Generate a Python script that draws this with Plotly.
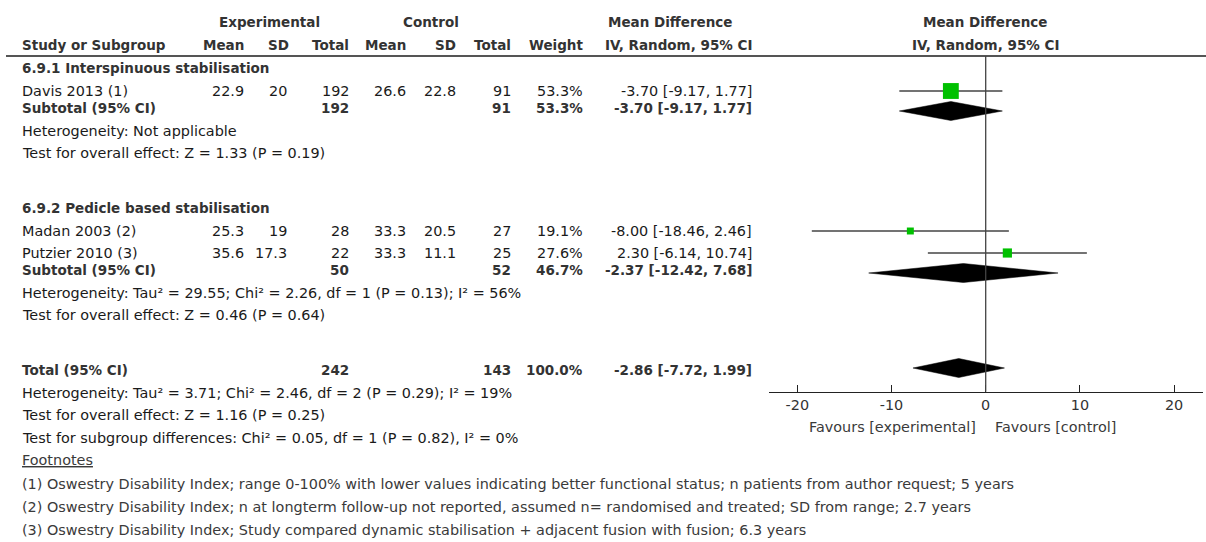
import plotly.graph_objects as go

# ---------------- data ----------------
group_names = ["6.9.1 Interspinuous stabilisation", "6.9.2 Pedicle based stabilisation"]
study_names = ["Davis 2013 (1)", "Madan 2003 (2)", "Putzier 2010 (3)"]
study_group = [0, 1, 1]
exp_mean = [22.9, 25.3, 35.6]
exp_sd = [20, 19, 17.3]
exp_total = [192, 28, 22]
ctl_mean = [26.6, 33.3, 33.3]
ctl_sd = [22.8, 20.5, 11.1]
ctl_total = [91, 27, 25]
weights = [53.3, 19.1, 27.6]
md = [-3.70, -8.00, 2.30]
md_lo = [-9.17, -18.46, -6.14]
md_hi = [1.77, 2.46, 10.74]

sub_exp_total = [192, 50]
sub_ctl_total = [91, 52]
sub_weight = [53.3, 46.7]
sub_md = [-3.70, -2.37]
sub_lo = [-9.17, -12.42]
sub_hi = [1.77, 7.68]
sub_het = ["Heterogeneity: Not applicable",
           "Heterogeneity: Tau² = 29.55; Chi² = 2.26, df = 1 (P = 0.13); I² = 56%"]
sub_test = ["Test for overall effect: Z = 1.33 (P = 0.19)",
            "Test for overall effect: Z = 0.46 (P = 0.64)"]

total_exp = 242
total_ctl = 143
total_weight = 100.0
total_md = -2.86
total_lo = -7.72
total_hi = 1.99
total_notes = ["Heterogeneity: Tau² = 3.71; Chi² = 2.46, df = 2 (P = 0.29); I² = 19%",
               "Test for overall effect: Z = 1.16 (P = 0.25)",
               "Test for subgroup differences: Chi² = 0.05, df = 1 (P = 0.82), I² = 0%"]
footnotes = ["(1) Oswestry Disability Index; range 0-100% with lower values indicating better functional status; n patients from author request; 5 years",
             "(2) Oswestry Disability Index; n at longterm follow-up not reported, assumed n= randomised and treated; SD from range; 2.7 years",
             "(3) Oswestry Disability Index; Study compared dynamic stabilisation + adjacent fusion with fusion; 6.3 years"]
tick_vals = [-20, -10, 0, 10, 20]
tick_labels = ["-20", "-10", "0", "10", "20"]
favours = ["Favours [experimental]", "Favours [control]"]

# ---------------- layout / style ----------------
W, H = 1206, 542
FONT = "DejaVu Sans"
REG = dict(family=FONT, size=14.4, color="#1a1a1a")
BOLD_C = "#333333"
BSIZE = 13.5
NOTE = dict(family=FONT, size=14.4, color="#3a3a3a")
GREEN = "#00C000"
LINEC = "#444444"

# column anchor positions (px, right edges)
COL_LABEL = 21
COL = dict(em=245, esd=288, en=350, cm=407, csd=457, cn=512, w=584, ci=753)

# row layout (px from top)
Y_H1, Y_H2, Y_RULE = 22, 45, 56
group_rows = [
    dict(head=68, studies=[91], sub=108, het=131, test=153),
    dict(head=208, studies=[231, 253], sub=270, het=293, test=315),
]
Y_TOTAL = 370
Y_NOTES = [393, 415, 438]
Y_FOOTHEAD = 460
Y_FOOT = [484, 507, 530]
DIAMOND_OFFSET = 3
DIAMOND_HALF = 9.5
AXIS_Y = 391.7

PLOT_L, PLOT_R = 769, 1203
X0_PX, PX_PER_UNIT = 985.7, 9.42
x_range = [(PLOT_L - X0_PX) / PX_PER_UNIT, (PLOT_R - X0_PX) / PX_PER_UNIT]

ann = []


def txt(x, y, s, anchor="left", bold=False, font=None, xref="paper"):
    if font is None:
        font = dict(family=FONT, size=BSIZE, color=BOLD_C) if bold else REG
    ann.append(dict(x=(x / W) if xref == "paper" else x, y=y, xref=xref, yref="y",
                    text=s, showarrow=False, xanchor=anchor, yanchor="middle",
                    font=font, borderpad=0))


def fmt_ci(m, l, h):
    return f"{m:.2f} [{l:.2f}, {h:.2f}]"


# headers
txt(269, Y_H1, "<b>Experimental</b>", "center", True)
txt(431, Y_H1, "<b>Control</b>", "center", True)
txt(670, Y_H1, "<b>Mean Difference</b>", "center", True)
txt(0, Y_H1, "<b>Mean Difference</b>", "center", True, xref="x")
txt(COL_LABEL, Y_H2, "<b>Study or Subgroup</b>", "left", True)
for key, lab in [("em", "Mean"), ("esd", "SD"), ("en", "Total"), ("cm", "Mean"),
                 ("csd", "SD"), ("cn", "Total"), ("w", "Weight"), ("ci", "IV, Random, 95% CI")]:
    txt(COL[key] + (2 if key == "esd" else 0), Y_H2, f"<b>{lab}</b>", "right", True)
txt(0, Y_H2, "<b>IV, Random, 95% CI</b>", "center", True, xref="x")

fig = go.Figure()

# groups
for g, rows in enumerate(group_rows):
    txt(COL_LABEL, rows["head"], f"<b>{group_names[g]}</b>", "left", True)
    idx = [i for i, sg in enumerate(study_group) if sg == g]
    for i, yy in zip(idx, rows["studies"]):
        txt(COL_LABEL, yy, study_names[i])
        txt(COL["em"], yy, f"{exp_mean[i]:g}", "right")
        txt(COL["esd"], yy, f"{exp_sd[i]:g}", "right")
        txt(COL["en"], yy, f"{exp_total[i]}", "right")
        txt(COL["cm"], yy, f"{ctl_mean[i]:g}", "right")
        txt(COL["csd"], yy, f"{ctl_sd[i]:g}", "right")
        txt(COL["cn"], yy, f"{ctl_total[i]}", "right")
        txt(COL["w"], yy, f"{weights[i]:.1f}%", "right")
        txt(COL["ci"], yy, fmt_ci(md[i], md_lo[i], md_hi[i]), "right")
        fig.add_trace(go.Scatter(x=[md_lo[i], md_hi[i]], y=[yy, yy], mode="lines",
                                 line=dict(color=LINEC, width=1.3), hoverinfo="skip"))
        fig.add_trace(go.Scatter(x=[md[i]], y=[yy], mode="markers",
                                 marker=dict(symbol="square", color=GREEN,
                                             size=2 + 0.26 * weights[i], line=dict(width=0)),
                                 hoverinfo="skip"))
    ys = rows["sub"]
    txt(COL_LABEL, ys, "<b>Subtotal (95% CI)</b>", "left", True)
    txt(COL["en"], ys, f"<b>{sub_exp_total[g]}</b>", "right", True)
    txt(COL["cn"], ys, f"<b>{sub_ctl_total[g]}</b>", "right", True)
    txt(COL["w"], ys, f"<b>{sub_weight[g]:.1f}%</b>", "right", True)
    txt(COL["ci"], ys, f"<b>{fmt_ci(sub_md[g], sub_lo[g], sub_hi[g])}</b>", "right", True)
    yd = ys + DIAMOND_OFFSET
    fig.add_trace(go.Scatter(x=[sub_lo[g], sub_md[g], sub_hi[g], sub_md[g], sub_lo[g]],
                             y=[yd, yd - DIAMOND_HALF, yd, yd + DIAMOND_HALF, yd],
                             mode="lines", fill="toself", fillcolor="black",
                             line=dict(color="black", width=0.5), hoverinfo="skip"))
    txt(COL_LABEL, rows["het"], sub_het[g])
    txt(COL_LABEL, rows["test"], sub_test[g])

# total
txt(COL_LABEL, Y_TOTAL, "<b>Total (95% CI)</b>", "left", True)
txt(COL["en"], Y_TOTAL, f"<b>{total_exp}</b>", "right", True)
txt(COL["cn"], Y_TOTAL, f"<b>{total_ctl}</b>", "right", True)
txt(COL["w"], Y_TOTAL, f"<b>{total_weight:.1f}%</b>", "right", True)
txt(COL["ci"], Y_TOTAL, f"<b>{fmt_ci(total_md, total_lo, total_hi)}</b>", "right", True)
yd = Y_TOTAL - 2
fig.add_trace(go.Scatter(x=[total_lo, total_md, total_hi, total_md, total_lo],
                         y=[yd, yd - DIAMOND_HALF, yd, yd + DIAMOND_HALF, yd],
                         mode="lines", fill="toself", fillcolor="black",
                         line=dict(color="black", width=0.5), hoverinfo="skip"))
for s, yy in zip(total_notes, Y_NOTES):
    txt(COL_LABEL, yy, s)

txt(COL_LABEL, Y_FOOTHEAD, "<u>Footnotes</u>", font=NOTE)
for s, yy in zip(footnotes, Y_FOOT):
    txt(COL_LABEL, yy, s, font=NOTE)

# favours labels
txt(-0.9, 427, favours[0], "right", font=NOTE, xref="x")
txt(0.9, 427, favours[1], "left", font=NOTE, xref="x")

shapes = [
    dict(type="line", xref="paper", yref="y", x0=6 / W, x1=1, y0=Y_RULE, y1=Y_RULE,
         line=dict(color="#555555", width=2)),
    dict(type="line", xref="x", yref="y", x0=0, x1=0, y0=Y_RULE, y1=AXIS_Y,
         line=dict(color=LINEC, width=1.3)),
]

fig.update_layout(
    width=W, height=H, autosize=False,
    margin=dict(l=0, r=0, t=0, b=0),
    paper_bgcolor="white", plot_bgcolor="white",
    showlegend=False,
    annotations=ann, shapes=shapes,
    xaxis=dict(domain=[PLOT_L / W, PLOT_R / W], range=x_range, anchor="free",
               position=1 - AXIS_Y / H, showline=True, linecolor="#222222", linewidth=1.3,
               ticks="inside", ticklen=7, tickwidth=1.3, tickcolor="#222222",
               tickvals=tick_vals, ticktext=tick_labels, showgrid=False, zeroline=False,
               tickfont=dict(family=FONT, size=14.4, color="#333333"), fixedrange=True),
    yaxis=dict(domain=[0, 1], range=[H, 0], visible=False, showgrid=False,
               zeroline=False, fixedrange=True),
)

fig.write_html("out.html", config={"displayModeBar": False},
               post_script="document.body.style.margin='0';document.body.style.overflow='hidden';")
